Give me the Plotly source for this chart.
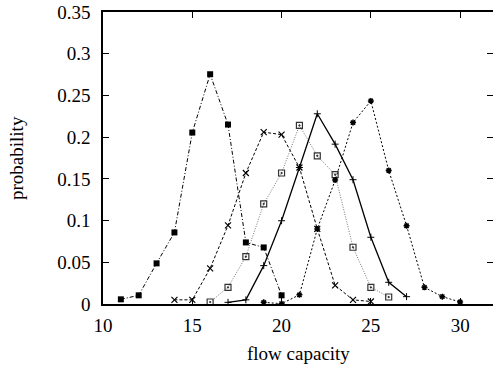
import plotly.graph_objects as go

x1 = [11, 12, 13, 14, 15, 16, 17, 18, 19, 20]
y1 = [0.0056, 0.0104, 0.0487, 0.0858, 0.2055, 0.2754, 0.2151, 0.0738, 0.0678, 0.0104]

x2 = [14, 15, 16, 17, 18, 19, 20, 21, 22, 23, 24, 25]
y2 = [0.005, 0.005, 0.0427, 0.0942, 0.157, 0.206, 0.203, 0.1636, 0.090, 0.0223, 0.005, 0.003]

x3 = [16, 17, 18, 19, 20, 21, 22, 23, 24, 25, 26]
y3 = [0.0024, 0.020, 0.0567, 0.120, 0.157, 0.214, 0.1776, 0.155, 0.068, 0.020, 0.0084]

x4 = [17, 18, 19, 20, 21, 22, 23, 24, 25, 26, 27]
y4 = [0.002, 0.005, 0.046, 0.0998, 0.1636, 0.228, 0.1916, 0.149, 0.080, 0.026, 0.0088]

x5 = [19, 20, 21, 22, 23, 24, 25, 26, 27, 28, 29, 30]
y5 = [0.002, 0.0004, 0.011, 0.090, 0.1485, 0.2175, 0.2434, 0.160, 0.0938, 0.020, 0.0088, 0.0024]

x_ticks = [10, 15, 20, 25, 30]
y_ticks = [0, 0.05, 0.1, 0.15, 0.2, 0.25, 0.3, 0.35]
y_tick_text = ["0", "0.05", "0.1", "0.15", "0.2", "0.25", "0.3", "0.35"]

FONT = "Liberation Serif"

fig = go.Figure()
fig.add_trace(go.Scatter(x=x1, y=y1, mode="lines+markers",
                         line=dict(color="black", width=1, dash="4px,2px,1px,2px"),
                         marker=dict(symbol="square", size=6, color="black")))
fig.add_trace(go.Scatter(x=x2, y=y2, mode="lines+markers",
                         line=dict(color="black", width=1, dash="3px,2px"),
                         marker=dict(symbol="x-thin-open", size=6, line=dict(color="black", width=1.2))))
fig.add_trace(go.Scatter(x=x3, y=y3, mode="lines+markers",
                         line=dict(color="#777777", width=1, dash="1px,1.5px"),
                         marker=dict(symbol="square-open-dot", size=6, color="#333333", line=dict(color="#333333", width=1.2))))
fig.add_trace(go.Scatter(x=x4, y=y4, mode="lines+markers",
                         line=dict(color="black", width=1.3),
                         marker=dict(symbol="cross-thin-open", size=5, line=dict(color="black", width=1))))
fig.add_trace(go.Scatter(x=x5, y=y5, mode="lines+markers",
                         line=dict(color="black", width=1, dash="2px,2px"),
                         marker=dict(symbol="asterisk-open", size=5, line=dict(color="black", width=1.5))))

fig.update_layout(
    width=493, height=366,
    margin=dict(l=103, r=0, t=12, b=62),
    paper_bgcolor="white", plot_bgcolor="white",
    showlegend=False,
    font=dict(family=FONT, size=19, color="black"),
)
fig.update_xaxes(
    range=[10, 31.84], tickvals=x_ticks, ticks="inside", ticklen=6, tickcolor="black",
    showline=True, linecolor="black", linewidth=1.5, mirror="ticks",
    showgrid=False, zeroline=False, ticklabelstandoff=3, automargin=False,
    ticklabeloverflow="allow",
)
fig.update_yaxes(
    range=[0, 0.35], tickvals=y_ticks, ticktext=y_tick_text, ticks="inside", ticklen=6, tickcolor="black",
    showline=True, linecolor="black", linewidth=1.5, mirror="ticks",
    showgrid=False, zeroline=False, ticklabelstandoff=7, automargin=False,
    ticklabeloverflow="allow",
)
fig.add_annotation(text="flow capacity", xref="paper", yref="paper", x=0.5, y=0,
                   xanchor="center", yanchor="middle", yshift=-49, showarrow=False,
                   font=dict(family=FONT, size=19))
fig.add_annotation(text="probability", xref="paper", yref="paper", x=0, y=0.5,
                   xanchor="center", yanchor="middle", xshift=-87, textangle=-90, showarrow=False,
                   font=dict(family=FONT, size=19))

# remove the browser's default 8px body margin so the figure sits at the page origin
fig.write_html("out.html", config={"displayModeBar": False},
               post_script="document.body.style.margin='0';")
